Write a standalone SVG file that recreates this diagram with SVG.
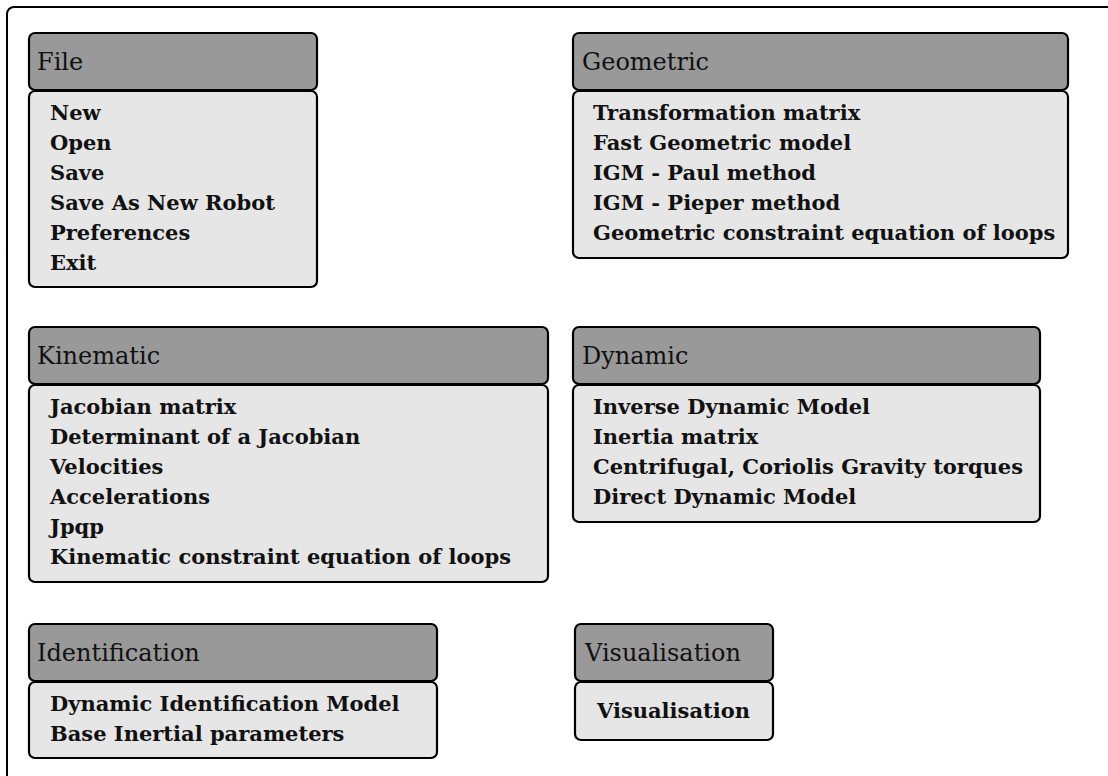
<svg xmlns="http://www.w3.org/2000/svg" width="1108" height="776" viewBox="0 0 1108 776">
<style>
.hd{fill:#999999;stroke:#000;stroke-width:2.2}
.bd{fill:#e6e6e6;stroke:#000;stroke-width:2.2}
.ht{font-family:"DejaVu Serif","Liberation Serif",serif;font-size:24px;fill:#111}
.it{font-family:"DejaVu Serif","Liberation Serif",serif;font-size:21px;font-weight:bold;fill:#111}
</style>
<rect x="7" y="7" width="1300" height="900" rx="7" fill="#fff" stroke="#000" stroke-width="2"/>
<g id="file">
<rect class="hd" x="29" y="33" width="288" height="57" rx="6"/>
<rect class="bd" x="29" y="91" width="288" height="196" rx="6"/>
<text class="ht" x="37" y="70">File</text>
<text class="it" x="50" y="120">New</text>
<text class="it" x="50" y="150">Open</text>
<text class="it" x="50" y="180">Save</text>
<text class="it" x="50" y="210">Save As New Robot</text>
<text class="it" x="50" y="240">Preferences</text>
<text class="it" x="50" y="270">Exit</text>
</g>
<g id="geometric">
<rect class="hd" x="573" y="33" width="495" height="57" rx="6"/>
<rect class="bd" x="573" y="91" width="495" height="167" rx="6"/>
<text class="ht" x="582" y="70">Geometric</text>
<text class="it" x="593" y="120">Transformation matrix</text>
<text class="it" x="593" y="150">Fast Geometric model</text>
<text class="it" x="593" y="180">IGM - Paul method</text>
<text class="it" x="593" y="210">IGM - Pieper method</text>
<text class="it" x="593" y="240">Geometric constraint equation of loops</text>
</g>
<g id="kinematic">
<rect class="hd" x="29" y="327" width="519" height="57" rx="6"/>
<rect class="bd" x="29" y="385" width="519" height="197" rx="6"/>
<text class="ht" x="37" y="364">Kinematic</text>
<text class="it" x="50" y="414">Jacobian matrix</text>
<text class="it" x="50" y="444">Determinant of a Jacobian</text>
<text class="it" x="50" y="474">Velocities</text>
<text class="it" x="50" y="504">Accelerations</text>
<text class="it" x="50" y="534">Jpqp</text>
<text class="it" x="50" y="564">Kinematic constraint equation of loops</text>
</g>
<g id="dynamic">
<rect class="hd" x="573" y="327" width="467" height="57" rx="6"/>
<rect class="bd" x="573" y="385" width="467" height="137" rx="6"/>
<text class="ht" x="582" y="364">Dynamic</text>
<text class="it" x="593" y="414">Inverse Dynamic Model</text>
<text class="it" x="593" y="444">Inertia matrix</text>
<text class="it" x="593" y="474">Centrifugal, Coriolis Gravity torques</text>
<text class="it" x="593" y="504">Direct Dynamic Model</text>
</g>
<g id="identification">
<rect class="hd" x="29" y="624" width="408" height="57" rx="6"/>
<rect class="bd" x="29" y="682" width="408" height="76" rx="6"/>
<text class="ht" x="37" y="661">Identification</text>
<text class="it" x="50" y="711">Dynamic Identification Model</text>
<text class="it" x="50" y="741">Base Inertial parameters</text>
</g>
<g id="visualisation">
<rect class="hd" x="575" y="624" width="198" height="57" rx="6"/>
<rect class="bd" x="575" y="682" width="198" height="58" rx="6"/>
<text class="ht" x="585" y="661">Visualisation</text>
<text class="it" x="597" y="718">Visualisation</text>
</g>
<g id="connectors"></g>
</svg>
